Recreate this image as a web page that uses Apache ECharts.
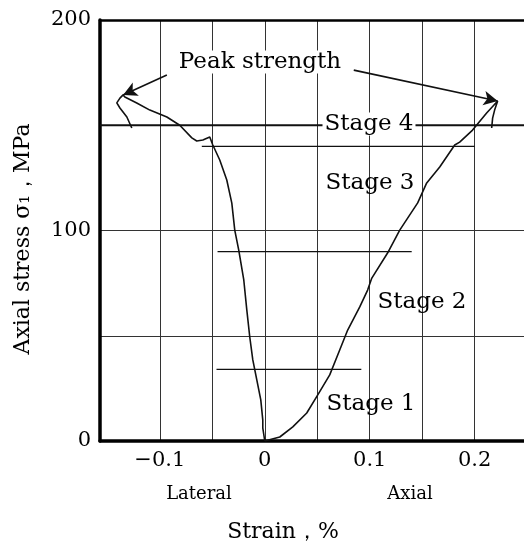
<!DOCTYPE html>
<html>
<head>
<meta charset="utf-8">
<script src="https://cdn.jsdelivr.net/npm/echarts@6/dist/echarts.min.js"></script>
<style>html,body{margin:0;padding:0;background:#fff;}#chart{width:524px;height:547px;}</style>
</head>
<body>
<div id="chart"></div>
<script>
// ---- data ----
const lateralStrain = [0, -0.0019, -0.0019, -0.0038, -0.0076, -0.0114, -0.0143, -0.0171, -0.020, -0.0248, -0.0286, -0.0314, -0.0362, -0.0429, -0.0495, -0.0524, -0.059, -0.0648, -0.0695, -0.081, -0.0933, -0.1095, -0.122, -0.1333, -0.135, -0.138, -0.141, -0.138, -0.1314, -0.1267];
const lateralStress = [0, 6.2, 10, 19.5, 29, 38.5, 49.4, 62.2, 76.5, 90.7, 100.2, 113, 124, 133.5, 140.6, 144.4, 143, 142.5, 144, 150, 153.9, 157.2, 160.6, 163.4, 164.4, 162.9, 160.6, 158.2, 153.9, 148.7];
const axialStrain = [0, 0.0143, 0.0267, 0.04, 0.0505, 0.0619, 0.0714, 0.079, 0.0905, 0.098, 0.102, 0.117, 0.1286, 0.1457, 0.1543, 0.1667, 0.181, 0.1857, 0.198, 0.2114, 0.2219, 0.219, 0.2171, 0.2162];
const axialStress = [0, 1.9, 6.7, 13.3, 21.9, 31.4, 43.2, 52.7, 63.7, 71.7, 77.4, 89.3, 100.2, 113.1, 122.6, 130.2, 140.6, 142, 147.7, 155.8, 161.5, 157.2, 153.4, 148.7];
const stageNames = ['Stage 1', 'Stage 2', 'Stage 3', 'Stage 4'];
const stageLevel = [34, 90, 140, 150];
const stageFrom = [-0.046, -0.045, -0.06, -0.157];
const stageTo = [0.092, 0.14, 0.2, 0.247];
const peakLateral = [-0.135, 164.4];
const peakAxial = [0.2219, 161.5];
const peakLabelFrom = [[-0.0933, 173.9], [0.0848, 176.2]];
const xTickLabels = [-0.1, 0, 0.1, 0.2];
const xGridValues = [-0.1, -0.05, 0, 0.05, 0.1, 0.15, 0.2];
const yTickLabels = [0, 100, 200];
const xMin = -0.157, xMax = 0.247;

const F = 'DejaVu Serif';
const chart = echarts.init(document.getElementById('chart'), null, {renderer: 'canvas'});

const zip = (a, b) => a.map((v, i) => [v, b[i]]);
const stageSeries = stageLevel.map((lv, i) => ({
  type: 'line', name: stageNames[i], data: [[stageFrom[i], lv], [stageTo[i], lv]],
  symbol: 'none', silent: true,
  lineStyle: {color: '#111', width: i === 3 ? 2 : 1.3}, z: 3
}));

chart.setOption({
  animation: false,
  backgroundColor: '#fff',
  grid: {left: 100, right: 0, top: 20, bottom: 106, containLabel: false},
  xAxis: [{
    type: 'value', min: xMin, max: xMax, position: 'bottom',
    axisLine: {show: true, onZero: false, lineStyle: {color: '#000', width: 3.5}},
    axisTick: {show: false, customValues: xGridValues},
    axisLabel: {customValues: xTickLabels, margin: 9, color: '#000', fontFamily: F, fontSize: 21,
      formatter: v => v < 0 ? '\u2212' + Math.abs(v) : String(v)},
    splitLine: {show: true, lineStyle: {color: '#333', width: 1}}
  }, {
    type: 'value', min: xMin, max: xMax, position: 'top',
    axisLine: {show: true, onZero: false, lineStyle: {color: '#000', width: 2.5}},
    axisTick: {show: false}, axisLabel: {show: false}, splitLine: {show: false}
  }],
  yAxis: {
    type: 'value', min: 0, max: 200, interval: 50, position: 'left',
    axisLine: {show: true, onZero: false, lineStyle: {color: '#000', width: 3.5}},
    axisTick: {show: false},
    axisLabel: {margin: 9, color: '#000', fontFamily: F, fontSize: 21,
      formatter: v => yTickLabels.indexOf(v) >= 0 ? String(v) : ''},
    splitLine: {show: true, lineStyle: {color: '#333', width: 1}}
  },
  series: [
    ...stageSeries,
    {type: 'line', name: 'Lateral', data: zip(lateralStrain, lateralStress), symbol: 'none',
     lineStyle: {color: '#111', width: 1.6}, z: 4},
    {type: 'line', name: 'Axial', data: zip(axialStrain, axialStress), symbol: 'none',
     lineStyle: {color: '#111', width: 1.6}, z: 4,
     markLine: {silent: true, symbol: ['none', 'arrow'], symbolSize: [11, 14],
       lineStyle: {color: '#111', width: 1.6, type: 'solid'}, label: {show: false},
       data: [
         [{coord: peakLabelFrom[0]}, {coord: peakLateral}],
         [{coord: peakLabelFrom[1]}, {coord: peakAxial}]
       ]}}
  ],
  graphic: [
    {type: 'text', z: 100, x: 260, y: 62, style: {text: 'Peak strength', font: '23px "DejaVu Serif"', fill: '#000', align: 'center', verticalAlign: 'middle', backgroundColor: '#fff'}},
    {type: 'text', z: 100, x: 369, y: 124, style: {text: stageNames[3], font: '23px "DejaVu Serif"', fill: '#000', align: 'center', verticalAlign: 'middle', backgroundColor: '#fff', padding: [0, 2]}},
    {type: 'text', z: 100, x: 370, y: 183, style: {text: stageNames[2], font: '23px "DejaVu Serif"', fill: '#000', align: 'center', verticalAlign: 'middle'}},
    {type: 'text', z: 100, x: 422, y: 302, style: {text: stageNames[1], font: '23px "DejaVu Serif"', fill: '#000', align: 'center', verticalAlign: 'middle'}},
    {type: 'text', z: 100, x: 371, y: 404, style: {text: stageNames[0], font: '23px "DejaVu Serif"', fill: '#000', align: 'center', verticalAlign: 'middle'}},
    {type: 'text', z: 100, x: 199, y: 494, style: {text: 'Lateral', font: '18px "DejaVu Serif"', fill: '#000', align: 'center', verticalAlign: 'middle'}},
    {type: 'text', z: 100, x: 410, y: 494, style: {text: 'Axial', font: '18px "DejaVu Serif"', fill: '#000', align: 'center', verticalAlign: 'middle'}},
    {type: 'text', z: 100, x: 283, y: 532, style: {text: 'Strain\uFF0C%', font: '22px "DejaVu Serif"', fill: '#000', align: 'center', verticalAlign: 'middle'}},
    {type: 'text', z: 100, x: 23, y: 239, rotation: Math.PI / 2, style: {text: 'Axial stress \u03C3\u2081\uFF0CMPa', font: '22px "DejaVu Serif"', fill: '#000', align: 'center', verticalAlign: 'middle'}}
  ]
});
</script>
</body>
</html>
